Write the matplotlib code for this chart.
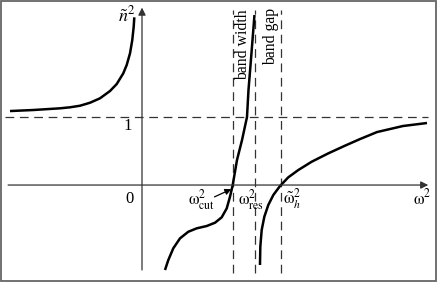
import numpy as np
import matplotlib.pyplot as plt
from matplotlib.patches import Rectangle

# pontos (unidades: 1 = nivel da linha tracejada)
ramo1_x = [-1.941, -1.603, -1.206, -1.059, -0.912, -0.765, -0.618, -0.471, -0.372, -0.275,
           -0.225, -0.176, -0.143, -0.122, -0.113]
ramo1_y = [1.088, 1.103, 1.128, 1.143, 1.166, 1.210, 1.275, 1.382, 1.485, 1.643,
           1.765, 1.937, 2.132, 2.328, 2.466]

ramo2_x = [0.338, 0.387, 0.460, 0.559, 0.681, 0.804, 0.951, 1.074, 1.172, 1.246, 1.294,
           1.334, 1.397, 1.471, 1.544, 1.566, 1.596, 1.625, 1.654]
ramo2_y = [-1.25, -1.103, -0.931, -0.784, -0.687, -0.637, -0.603, -0.554, -0.475, -0.343, -0.172,
           0.0, 0.368, 0.662, 1.0, 1.397, 1.765, 2.132, 2.5]

ramo3_x = [1.735, 1.740, 1.760, 1.799, 1.857, 1.931, 2.029, 2.151, 2.299, 2.496, 2.740,
           2.975, 3.206, 3.456, 3.838, 4.191]
ramo3_y = [-1.176, -0.907, -0.662, -0.466, -0.294, -0.147, -0.015, 0.113, 0.221, 0.343, 0.466,
           0.574, 0.676, 0.779, 0.868, 0.912]

w_cut = 1.338   # corte
w_res = 1.662   # ressonancia
w_h = 2.044     # limite do band gap
n_inf = 1.0

plt.rcParams['font.family'] = ['Liberation Serif', 'DejaVu Serif']
plt.rcParams['mathtext.fontset'] = 'stix'

fig = plt.figure(figsize=(4.37, 2.82), dpi=100)
ax = fig.add_axes([0, 0, 1, 1])
ax.set_xlim(-2.088, 4.338)
ax.set_ylim(-1.426, 2.721)
ax.axis('off')

# moldura cinza
fig.patches.append(Rectangle((0.002, 0.004), 0.995, 0.992, transform=fig.transFigure,
                             fill=False, edgecolor='#666666', linewidth=1.3))

cor_eixo = '#333333'
# eixos com setas
ax.annotate('', xy=(4.25, 0), xytext=(-2.01, 0),
            arrowprops=dict(arrowstyle='-|>', color=cor_eixo, lw=0.9, mutation_scale=11))
ax.annotate('', xy=(0, 2.65), xytext=(0, -1.29),
            arrowprops=dict(arrowstyle='-|>', color=cor_eixo, lw=0.9, mutation_scale=11))

# linhas tracejadas
estilo = dict(color=cor_eixo, lw=0.9, dashes=(7, 4.5))
ax.plot([-2.01, 4.21], [n_inf, n_inf], **estilo)
for xv in [w_cut, w_res, w_h]:
    ax.plot([xv, xv], [-1.29, 2.57], **estilo)

# curvas
for xs, ys in [(ramo1_x, ramo1_y), (ramo2_x, ramo2_y), (ramo3_x, ramo3_y)]:
    ax.plot(xs, ys, color='black', lw=1.8, solid_capstyle='butt', solid_joinstyle='round')

# textos
ax.text(-0.1, 2.5, r'$\tilde{n}^2$', ha='right', va='center', fontsize=13)
ax.text(-0.206, 0.868, '1', ha='center', va='center', fontsize=12)
ax.text(-0.19, -0.206, '0', ha='center', va='center', fontsize=12)
ax.text(0.868, -0.22, r'$\mathrm{\omega}^2_{\mathrm{cut}}$', ha='center', va='center', fontsize=12)
ax.text(1.41, -0.22, r'$\mathrm{\omega}^2_{\mathrm{res}}$', ha='left', va='center', fontsize=12)
ax.text(2.08, -0.2, r'$\tilde{\mathrm{\omega}}^2_h$', ha='left', va='center', fontsize=12)
ax.text(4.25, -0.2, r'$\mathrm{\omega}^2$', ha='right', va='center', fontsize=12)
ax.text(1.485, 2.06, 'band width', rotation=90, ha='center', va='center', fontsize=11.3)
ax.text(1.897, 2.18, 'band gap', rotation=90, ha='center', va='center', fontsize=11.3)

ax.annotate('', xy=(1.35, -0.044), xytext=(1.029, -0.191),
            arrowprops=dict(arrowstyle='-|>', color='black', lw=0.9, mutation_scale=9))

fig.savefig('out.png', dpi=100)
